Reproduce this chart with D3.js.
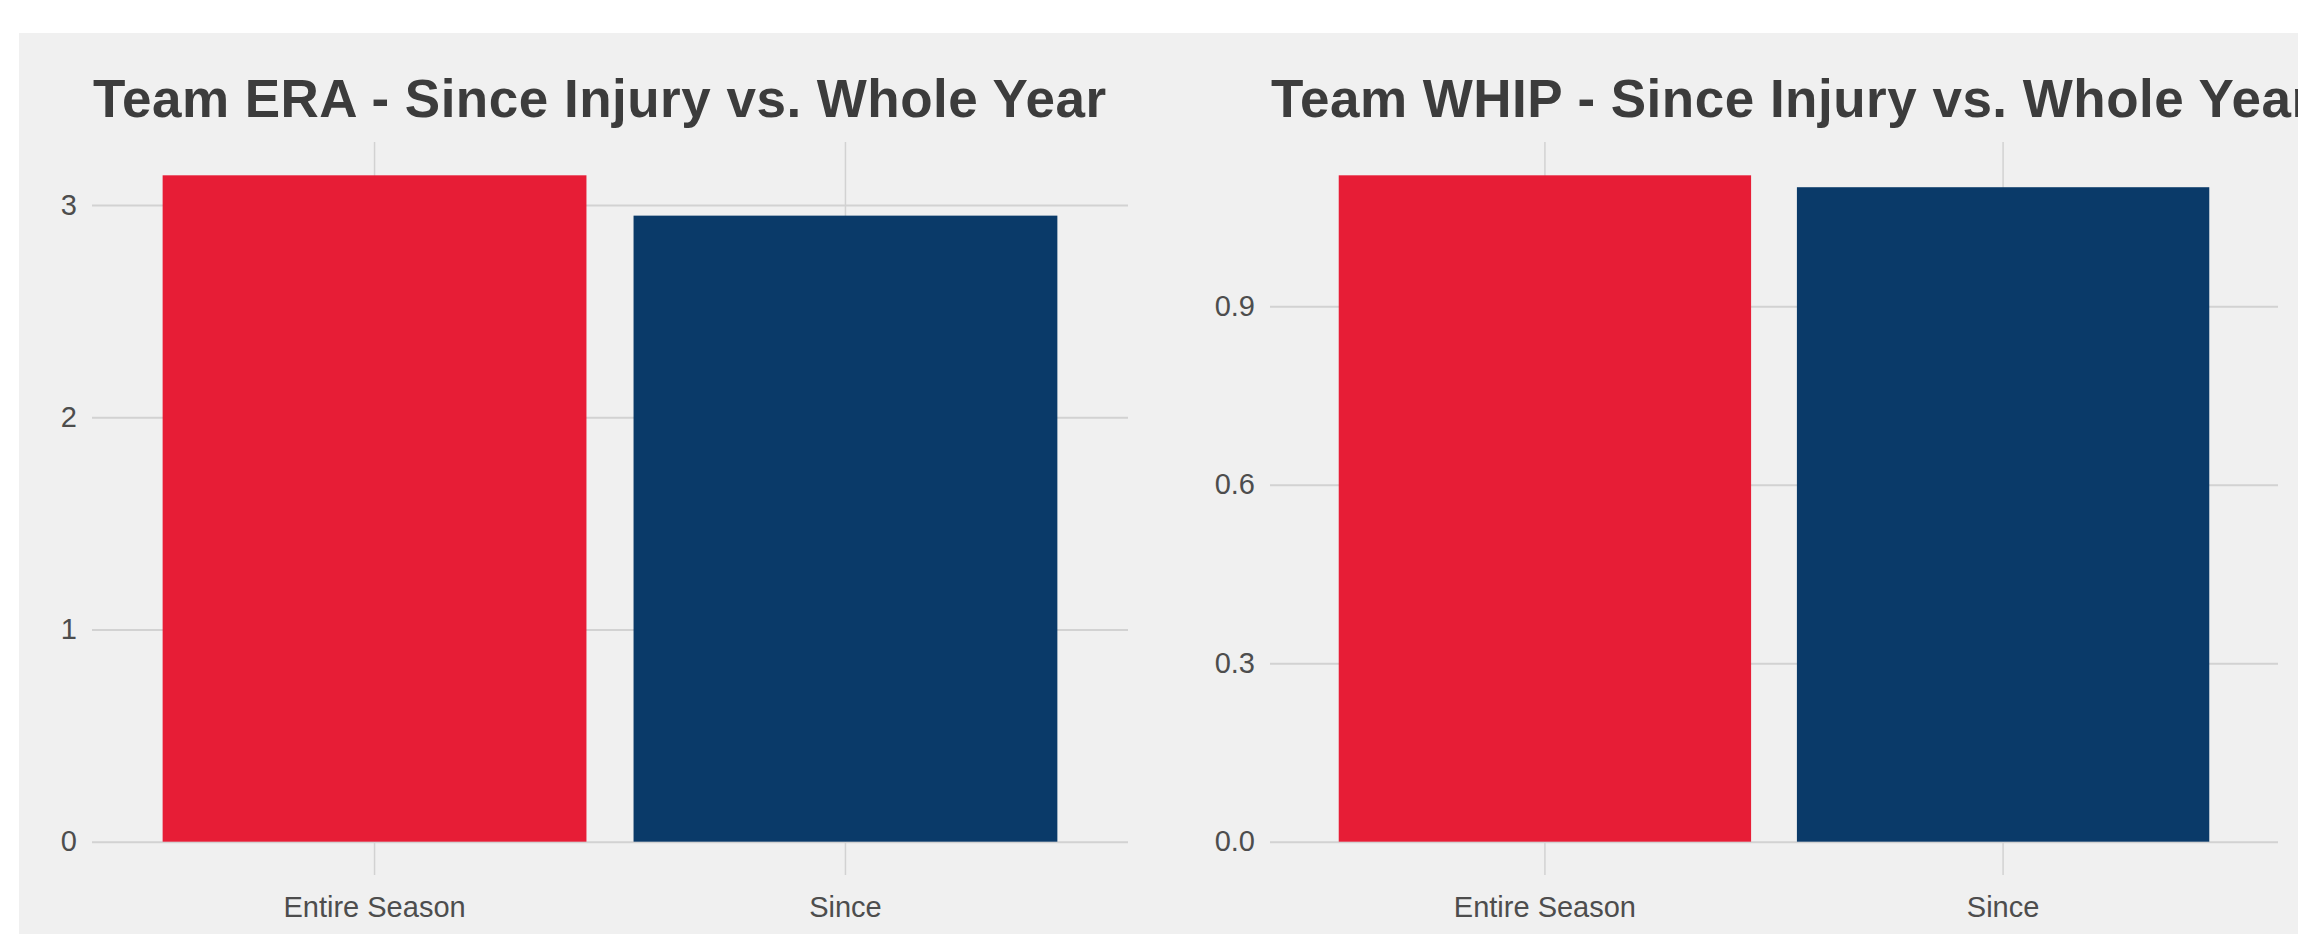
<!DOCTYPE html>
<html>
<head>
<meta charset="utf-8">
<script src="https://cdn.jsdelivr.net/npm/d3@7"></script>
<style>
  html, body { margin: 0; padding: 0; background: #ffffff; }
  svg { display: block; }
  text { font-family: "Liberation Sans", Arial, sans-serif; }
</style>
</head>
<body>
<svg id="chart" width="2298" height="934"></svg>
<script>
// chart values
const categories = ["Entire Season", "Since"];
const eraValues = [3.14, 2.95];
const whipValues = [1.12, 1.10];
const eraTicks = [0, 1, 2, 3];
const whipTicks = [0, 0.3, 0.6, 0.9];
const titles = ["Team ERA - Since Injury vs. Whole Year", "Team WHIP - Since Injury vs. Whole Year"];
const barColors = ["#E71D36", "#0A3A69"];

const svg = d3.select("#chart");

// grey page background (white strip on top and left)
svg.append("rect")
    .attr("x", 19).attr("y", 33)
    .attr("width", 2298 - 19).attr("height", 934 - 33)
    .attr("fill", "#F0F0F0");

const panels = [
    { title: titles[0], values: eraValues, ticks: eraTicks, fmt: d3.format("d"), left: 92, right: 1128 },
    { title: titles[1], values: whipValues, ticks: whipTicks, fmt: d3.format(".1f"), left: 1270, right: 2278 }
];

const plotTop = 142, plotBottom = 875;

function drawPanel(p) {
    const g = svg.append("g");
    const maxV = d3.max(p.values);

    const x = d3.scaleBand()
        .domain(categories)
        .range([p.left, p.right])
        .paddingInner(0.1)
        .paddingOuter(0.15);

    // ggplot style 5% expansion
    const y = d3.scaleLinear()
        .domain([-0.05 * maxV, 1.05 * maxV])
        .range([plotBottom, plotTop]);

    // horizontal grid + y labels
    const yAxis = g.append("g")
        .attr("transform", `translate(${p.left},0)`)
        .call(d3.axisLeft(y)
            .tickValues(p.ticks)
            .tickFormat(p.fmt)
            .tickSize(-(p.right - p.left))
            .tickPadding(15));
    yAxis.select(".domain").remove();
    yAxis.selectAll("line").attr("stroke", "#D2D2D2").attr("stroke-width", 2);
    yAxis.selectAll("text")
        .attr("fill", "#4D4D4D")
        .style("font-size", "29px");

    // vertical grid + x labels
    const xAxis = g.append("g")
        .attr("transform", `translate(0,${plotBottom})`)
        .call(d3.axisBottom(x)
            .tickSize(-(plotBottom - plotTop))
            .tickPadding(21));
    xAxis.select(".domain").remove();
    xAxis.selectAll("line").attr("stroke", "#D2D2D2").attr("stroke-width", 1.5);
    xAxis.selectAll("text")
        .attr("fill", "#4D4D4D")
        .style("font-size", "29px");

    // bars
    g.selectAll("rect.bar")
        .data(p.values)
        .enter()
        .append("rect")
        .attr("class", "bar")
        .attr("x", (d, i) => x(categories[i]))
        .attr("width", x.bandwidth())
        .attr("y", d => y(d))
        .attr("height", d => y(0) - y(d))
        .attr("fill", (d, i) => barColors[i]);

    // title, left aligned with panel
    g.append("text")
        .attr("x", p.left + 1)
        .attr("y", 117)
        .attr("fill", "#3C3C3C")
        .style("font-size", "53px")
        .style("letter-spacing", "0.5px")
        .style("font-weight", "bold")
        .text(p.title);
}

panels.forEach(drawPanel);
</script>
</body>
</html>
